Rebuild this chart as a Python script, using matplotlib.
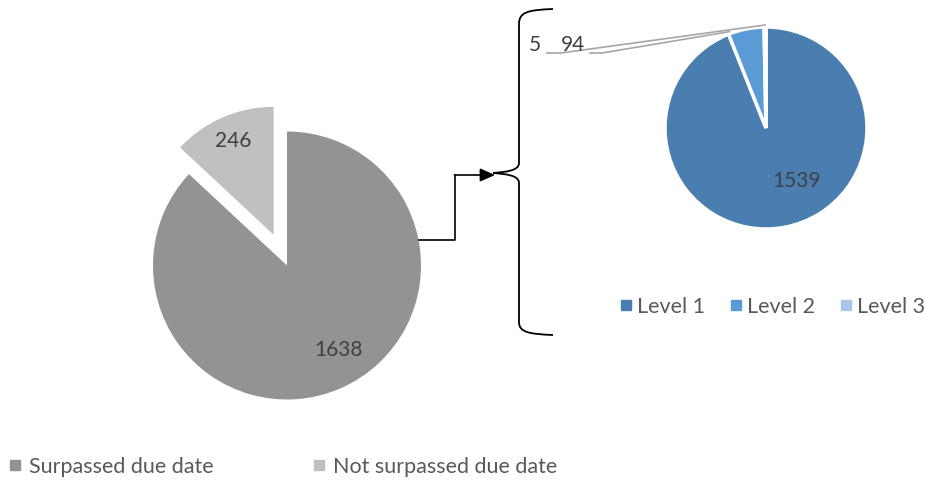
import numpy as np
import matplotlib.pyplot as plt
from matplotlib.lines import Line2D
from matplotlib.path import Path
from matplotlib.patches import PathPatch

# tickets split by due date, and the overdue ones split by level
due_labels = ['Surpassed due date', 'Not surpassed due date']
due_counts = [1638, 246]
level_labels = ['Level 1', 'Level 2', 'Level 3']
level_counts = [1539, 94, 5]

due_colors = ['#939393', '#c0c0c0']
level_colors = ['#4a7eb1', '#5b9bd5', '#a9c6e8']
text_color = '#404040'
legend_color = '#595959'
line_gray = '#a6a6a6'

W, H = 925, 483
plt.rcParams['font.family'] = ['Lato', 'DejaVu Sans']

fig = plt.figure(figsize=(W / 100, H / 100), dpi=100)
ax = fig.add_axes([0, 0, 1, 1])


def px(x, y):
    # pixel position (origin top-left) -> data coords
    return x, H - y


def polar(center, r, ang):
    a = np.deg2rad(ang)
    return center[0] + r * np.cos(a), center[1] + r * np.sin(a)


# --- left pie ---
c_left = px(287, 265.5)
r_left = 134
wl, _ = ax.pie(due_counts, colors=due_colors, startangle=90, counterclock=False,
               explode=[0, 0.25 * r_left], radius=r_left, center=c_left,
               wedgeprops=dict(linewidth=0))
wl[1].set_radius(0.955 * r_left)
# label angle offset from slice middle, radius fraction
left_lab = [(8, 0.74), (0, 0.76)]
for w, v, (off, rf) in zip(wl, due_counts, left_lab):
    mid = (w.theta1 + w.theta2) / 2 + off
    x, y = polar(w.center, rf * r_left, mid)
    ax.text(x, y, str(v), ha='center', va='center', fontsize=15, color=text_color)

# --- right pie ---
c_right = px(766, 128)
r_right = 101
wr, _ = ax.pie(level_counts, colors=level_colors, startangle=90, counterclock=False,
               radius=r_right, center=c_right,
               wedgeprops=dict(edgecolor='white', linewidth=2.5))
mid = (wr[0].theta1 + wr[0].theta2) / 2 + 19
x, y = polar(c_right, 0.61 * r_right, mid)
ax.text(x, y, str(level_counts[0]), ha='center', va='center', fontsize=15, color=text_color)

# small slices labelled outside with leader lines
ax.text(*px(535, 45), str(level_counts[2]), ha='center', va='center', fontsize=15, color=text_color)
ax.text(*px(573, 45), str(level_counts[1]), ha='center', va='center', fontsize=15, color=text_color)
tx, ty = polar(c_right, r_right * 1.02, (wr[2].theta1 + wr[2].theta2) / 2)
ax.plot([547, 561, tx], [H - 53, H - 53, ty], color=line_gray, lw=1.2, solid_joinstyle='miter')
tx, ty = polar(c_right, r_right * 1.02, wr[1].theta2 - 1)
ax.plot([590, 602, tx], [H - 53, H - 53, ty], color=line_gray, lw=1.2, solid_joinstyle='miter')

# --- connector from left pie to the brace ---
yc = 240
xs = c_left[0] + np.sqrt(r_left ** 2 - (H - yc - c_left[1]) ** 2)
ax.plot([xs, 455, 455], [H - yc, H - yc, H - 175], color='black', lw=1.2)
ax.annotate('', xy=px(495, 175), xytext=px(454.4, 175),
            arrowprops=dict(arrowstyle='-|>,head_length=0.9,head_width=0.4',
                            color='black', lw=1.2, shrinkA=0, shrinkB=0))

# curly brace
verts = [(553, 9), (528, 10), (519, 12), (519, 24),
         (519, 163),
         (519, 171), (505, 172), (493, 173),
         (505, 174), (519, 175), (519, 183),
         (519, 322),
         (519, 332), (528, 334), (553, 335)]
codes = [Path.MOVETO, Path.CURVE4, Path.CURVE4, Path.CURVE4,
         Path.LINETO,
         Path.CURVE4, Path.CURVE4, Path.CURVE4,
         Path.CURVE4, Path.CURVE4, Path.CURVE4,
         Path.LINETO,
         Path.CURVE4, Path.CURVE4, Path.CURVE4]
brace = Path([px(x, y) for x, y in verts], codes)
ax.add_patch(PathPatch(brace, facecolor='none', edgecolor='black', lw=1.3))

ax.set_xlim(0, W)
ax.set_ylim(0, H)
ax.set_aspect('equal')
ax.axis('off')

# legends
h_lev = [Line2D([], [], marker='s', ls='', color=c, markersize=6.5) for c in level_colors]
leg1 = ax.legend(h_lev, level_labels, ncol=3, loc='center left',
                 bbox_to_anchor=(619.5 / W, 1 - 307 / H), frameon=False,
                 fontsize=15.5, labelcolor=legend_color, handlelength=0.6,
                 handletextpad=0.2, columnspacing=1.15, borderpad=0, borderaxespad=0)
ax.add_artist(leg1)

h_due = [Line2D([], [], marker='s', ls='', color=c, markersize=6.5) for c in due_colors]
ax.legend(h_due, due_labels, ncol=2, loc='center left',
          bbox_to_anchor=(8.5 / W, 1 - 467 / H), frameon=False,
          fontsize=15.5, labelcolor=legend_color, handlelength=0.6,
          handletextpad=0.35, columnspacing=4.6, borderpad=0, borderaxespad=0)

fig.savefig('out.png', dpi=100)
